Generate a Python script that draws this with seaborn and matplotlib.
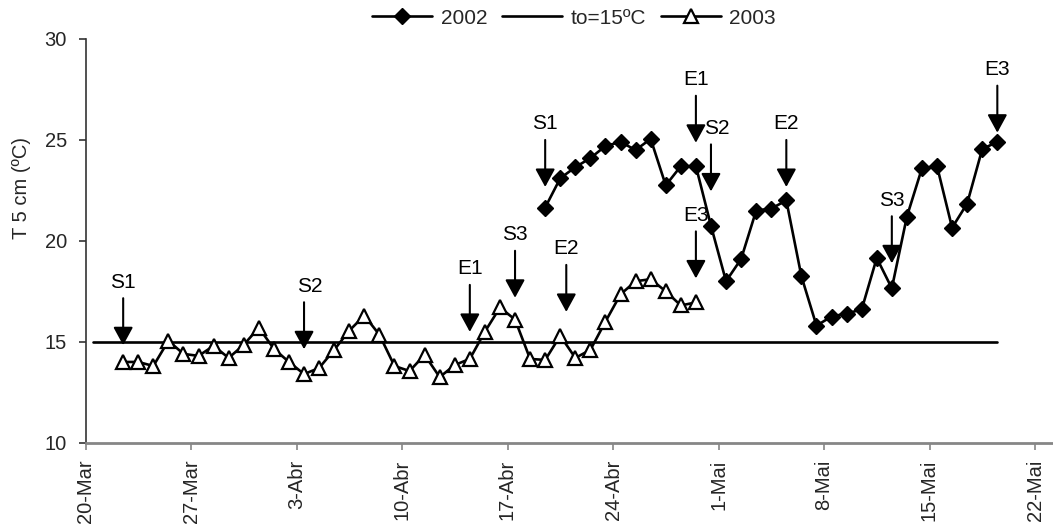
import matplotlib
matplotlib.use("Agg")
import matplotlib.pyplot as plt
from matplotlib.patches import ArrowStyle
import numpy as np
import pandas as pd
import seaborn as sns

# Soil temperature at 5 cm depth, daily values (days counted from 20 March)
days_2003 = list(range(2, 41))
temp_2003 = [14.0, 14.0, 13.8, 15.05, 14.4, 14.3, 14.8, 14.2, 14.85, 15.7,
             14.65, 14.0, 13.4, 13.7, 14.6, 15.55, 16.3, 15.35, 13.8, 13.55,
             14.35, 13.25, 13.85, 14.15, 15.5, 16.7, 16.1, 14.15, 14.1, 15.3,
             14.2, 14.6, 16.0, 17.35, 18.0, 18.1, 17.5, 16.8, 16.95]

days_2002 = list(range(30, 61))
temp_2002 = [21.65, 23.1, 23.65, 24.1, 24.7, 24.9, 24.5, 25.05, 22.75, 23.7,
             23.7, 20.75, 18.0, 19.1, 21.5, 21.6, 22.0, 18.25, 15.8, 16.25,
             16.4, 16.6, 19.15, 17.65, 21.2, 23.6, 23.7, 20.65, 21.85, 24.55,
             24.9]

# Threshold temperature
threshold = 15.0
days_threshold = list(range(0, 61))

# Event markers (label, day, arrow tip temperature)
events_2003_labels = ["S1", "S2", "E1", "S3", "E2", "E3"]
events_2003_days = [2, 14, 25, 28, 31.4, 40]
events_2003_tips = [14.83, 14.63, 15.49, 17.18, 16.48, 18.14]

events_2002_labels = ["S1", "E1", "S2", "E2", "S3", "E3"]
events_2002_days = [30, 40, 41, 46, 53, 60]
events_2002_tips = [22.67, 24.86, 22.45, 22.67, 18.89, 25.36]

tick_days = [0, 7, 14, 21, 28, 35, 42, 49, 56, 63]
tick_labels = ["20-Mar", "27-Mar", "3-Abr", "10-Abr", "17-Abr", "24-Abr",
               "1-Mai", "8-Mai", "15-Mai", "22-Mai"]

sns.set_theme(style="white")
plt.rcParams["font.family"] = ["Liberation Sans", "DejaVu Sans"]

fig = plt.figure(figsize=(10.53, 5.29), dpi=100)
ax = fig.add_axes([85.5 / 1053, 1 - 442.7 / 529, 1 - 85.5 / 1053, (442.7 - 39) / 529])

# daily values sit in the middle of each day slot
off = 0.5
df02 = pd.DataFrame({"x": np.array(days_2002) + off, "T": temp_2002})
df03 = pd.DataFrame({"x": np.array(days_2003) + off, "T": temp_2003})
dft = pd.DataFrame({"x": np.array(days_threshold) + off,
                    "T": [threshold] * len(days_threshold)})

lw = 1.9
sns.lineplot(data=df02, x="x", y="T", ax=ax, color="black", lw=lw,
             marker="D", markersize=8, markeredgecolor="black",
             markerfacecolor="black", markeredgewidth=1, label="2002", zorder=4)
sns.lineplot(data=dft, x="x", y="T", ax=ax, color="black", lw=lw,
             label="to=15ºC", zorder=3)
sns.lineplot(data=df03, x="x", y="T", ax=ax, color="black", lw=lw,
             marker="^", markersize=9.5, markeredgecolor="black",
             markerfacecolor="white", markeredgewidth=1.6, label="2003", zorder=4)

# Event arrows with labels above them
head = ArrowStyle("-|>", head_length=0.55, head_width=0.3)
arrow_len = 47
text_gap = 16
for labels, dd, tips in [(events_2003_labels, events_2003_days, events_2003_tips),
                         (events_2002_labels, events_2002_days, events_2002_tips)]:
    for lab, d, t in zip(labels, dd, tips):
        # "S2" labels sit a little to the right of their arrows
        dx = 6 if lab == "S2" else 0
        ax.annotate("", xy=(d + off, t), xytext=(0, arrow_len),
                    textcoords="offset pixels",
                    arrowprops=dict(arrowstyle=head, mutation_scale=20, lw=1.5,
                                    color="black", shrinkA=0, shrinkB=0),
                    zorder=5)
        ax.annotate(lab, xy=(d + off, t), xytext=(dx, arrow_len + text_gap),
                    textcoords="offset pixels", ha="center", va="center",
                    fontsize=15, color="black", zorder=5)

ax.set_xlim(0, (1053 - 85.5) / ((1035 - 85.5) / 63))
ax.set_ylim(10, 30)
ax.set_xticks(tick_days)
ax.set_xticklabels(tick_labels, rotation=90)
ax.set_yticks([10, 15, 20, 25, 30])
ax.set_xlabel("")
ax.set_ylabel("T 5 cm (ºC)", fontsize=14.5)
ax.yaxis.set_label_coords(-0.056, 0.631)

for s in ["top", "right"]:
    ax.spines[s].set_visible(False)
ax.spines["left"].set_color("#333333")
ax.spines["left"].set_linewidth(1.2)
ax.spines["bottom"].set_color("#868686")
ax.spines["bottom"].set_linewidth(2)
ax.tick_params(axis="y", direction="out", length=5, width=1.2, color="#333333",
               labelsize=14.5, pad=8.4, left=True)
ax.tick_params(axis="x", direction="out", length=5, width=1.2, color="#868686",
               labelsize=14.5, pad=7, bottom=True)

leg = ax.legend(loc="center", bbox_to_anchor=(574 / 1053, 1 - 18 / 529),
                bbox_transform=fig.transFigure, ncol=3, frameon=False,
                fontsize=15, handlelength=2.9, handletextpad=0.4,
                columnspacing=0.7, borderpad=0)

fig.savefig("out.png", dpi=100)
